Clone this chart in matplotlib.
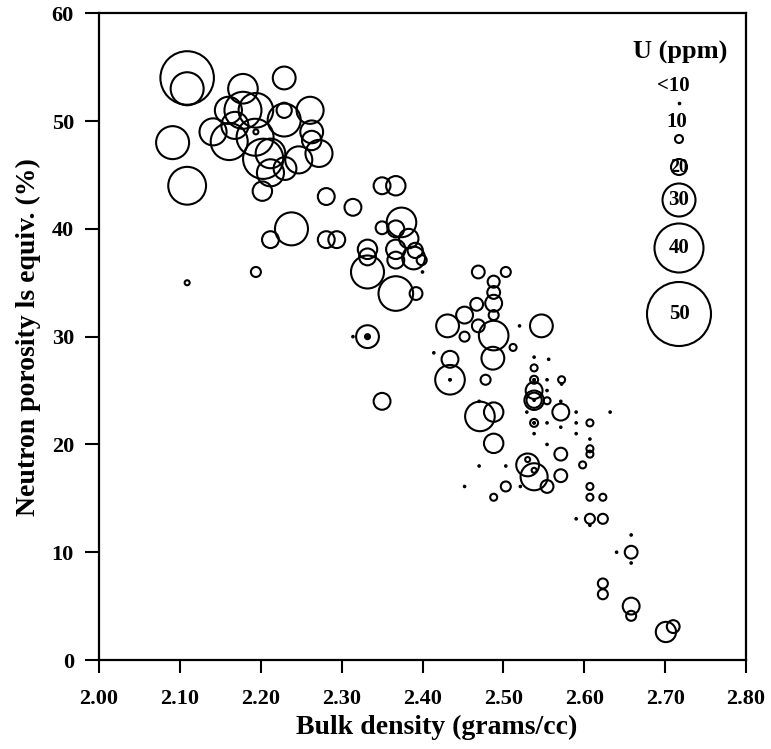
import numpy as np
import matplotlib
matplotlib.use("Agg")
import matplotlib.pyplot as plt

# ---- data: bulk density (g/cc), neutron porosity (%), uranium (ppm) ----
density = [
    2.109, 2.109, 2.178, 2.229, 2.261, 2.160, 2.229, 2.178, 2.194, 2.141,
    2.161, 2.194, 2.229, 2.263, 2.263, 2.272, 2.193, 2.203, 2.212, 2.212,
    2.247, 2.230, 2.202, 2.091, 2.109, 2.281, 2.238, 2.212, 2.281, 2.294,
    2.194, 2.109, 2.168,
    2.350, 2.367, 2.314, 2.374, 2.350, 2.367, 2.383, 2.332, 2.332, 2.367,
    2.367, 2.391, 2.389, 2.399, 2.400, 2.332, 2.367, 2.392, 2.332, 2.332,
    2.314, 2.350,
    2.431, 2.434, 2.434, 2.434, 2.414, 2.469, 2.503, 2.488, 2.488, 2.488,
    2.467, 2.488, 2.452, 2.469, 2.488, 2.452, 2.520, 2.547, 2.512, 2.487,
    2.478, 2.470, 2.471, 2.488, 2.488, 2.470, 2.503, 2.452, 2.488, 2.503,
    2.521, 2.530, 2.530, 2.538, 2.538, 2.554,
    2.538, 2.556, 2.538, 2.538, 2.538, 2.554, 2.572, 2.572, 2.538, 2.554,
    2.538, 2.538, 2.554, 2.571, 2.571, 2.529, 2.590, 2.632, 2.538, 2.538,
    2.554, 2.590, 2.607, 2.571, 2.538, 2.590, 2.607, 2.554, 2.607, 2.607,
    2.571, 2.598, 2.571, 2.607, 2.607, 2.623, 2.590, 2.607, 2.607, 2.623,
    2.658, 2.658, 2.658, 2.640, 2.623, 2.623, 2.658, 2.658, 2.701, 2.710,
]
porosity = [
    54.0, 53.0, 53.0, 54.0, 51.0, 51.0, 51.0, 51.0, 51.0, 49.0,
    48.1, 49.0, 50.1, 49.0, 48.2, 47.0, 48.5, 46.5, 47.0, 45.2,
    46.4, 45.6, 43.5, 48.0, 44.0, 43.0, 40.0, 39.0, 39.0, 39.0,
    36.0, 35.0, 49.6,
    44.0, 44.0, 42.0, 40.6, 40.1, 40.0, 39.1, 38.1, 37.4, 38.1,
    37.1, 38.0, 37.3, 37.1, 36.0, 36.0, 34.0, 34.0, 30.0, 30.0,
    30.0, 24.0,
    31.0, 27.9, 26.0, 26.0, 28.5, 36.0, 36.0, 35.1, 34.1, 33.1,
    33.0, 32.0, 32.0, 31.0, 30.1, 30.0, 31.0, 31.0, 29.0, 28.0,
    26.0, 24.0, 22.6, 23.0, 20.1, 18.0, 18.0, 16.1, 15.1, 16.1,
    16.1, 18.6, 18.1, 17.6, 17.0, 16.1,
    28.1, 27.9, 27.1, 26.0, 26.0, 26.0, 26.0, 25.6, 25.0, 25.0,
    24.1, 24.1, 24.05, 24.0, 23.0, 23.0, 23.0, 23.0, 22.0, 22.0,
    22.0, 22.0, 22.0, 21.6, 21.0, 21.0, 20.5, 20.0, 19.6, 19.1,
    19.1, 18.1, 17.1, 16.1, 15.1, 15.1, 13.1, 13.1, 12.5, 13.1,
    11.6, 10.0, 9.0, 10.0, 7.1, 6.1, 5.0, 4.1, 2.6, 3.1,
]
uranium = [
    43, 30, 28, 24, 26.5, 26.5, 19, 32.5, 31, 26.5,
    32.5, 7, 30, 24, 22, 26.5, 32.5, 34.5, 28, 26.5,
    26.5, 24, 22, 30, 33, 20.5, 30, 20.5, 20.5, 20.5,
    12.5, 7, 26.5,
    20.5, 22, 20.5, 28, 16, 20.5, 22, 22, 20.5, 22,
    20.5, 19, 24, 12.5, 5, 30, 31, 16, 24, 7,
    5, 20.5,
    24, 20.5, 28, 5, 5, 16, 12.5, 15, 16, 20.5,
    16, 12.5, 20.5, 16, 28, 12.5, 5, 24, 9, 24,
    12.5, 5, 28, 22, 22, 5, 5, 5, 9, 12.5,
    5, 7, 24, 7, 26.5, 16,
    5, 5, 9, 10, 5, 5, 9, 5, 20.5, 5,
    22, 19, 9, 5, 20.5, 5, 5, 5, 10, 5,
    5, 5, 9, 5, 5, 5, 5, 5, 9, 9,
    16, 9, 16, 9, 9, 9, 5, 12.5, 5, 12.5,
    5, 16, 5, 5, 12.5, 12.5, 20.5, 12.5, 22.5, 16,
]
# extra dots drawn inside a few circles
dot_density = [2.332, 2.434, 2.538, 2.538, 2.538]
dot_porosity = [30.0, 26.0, 26.0, 22.0, 24.1]

legend_ppm = [5, 10, 20, 30, 40, 50]
legend_labels = ["<10", "10", "20", "30", "40", "50"]

x_ticks = [2.00, 2.10, 2.20, 2.30, 2.40, 2.50, 2.60, 2.70, 2.80]
y_ticks = [0, 10, 20, 30, 40, 50, 60]

DPI = 100
REF_U = [5, 10, 20, 30, 40, 50]
REF_D = [3, 8, 16, 33, 49, 64]   # circle diameter in pixels


def size_of(u):
    d_px = np.interp(np.asarray(u, float), REF_U, REF_D)
    return (d_px * 72.0 / DPI) ** 2


serif = ["Liberation Serif", "DejaVu Serif"]
plt.rcParams["font.family"] = serif
plt.rcParams["font.weight"] = "bold"

fig = plt.figure(figsize=(7.71, 7.49), dpi=DPI)
ax = fig.add_axes([99 / 771, 89 / 749, 647 / 771, 646.7 / 749])

dens = np.array(density)
por = np.array(porosity)
u = np.array(uranium)
small = u < 6
ax.scatter(dens[~small], por[~small], s=size_of(u[~small]), facecolors="none",
           edgecolors="black", linewidths=1.5, zorder=3)
ax.scatter(dens[small], por[small], s=size_of(u[small]) * 0.7, facecolors="black",
           edgecolors="black", linewidths=0.8, zorder=3)
ax.scatter(dot_density, dot_porosity, s=size_of([5] * len(dot_density)) * 0.7,
           facecolors="black", edgecolors="black", linewidths=0.8, zorder=3)

ax.set_xlim(2.0, 2.8)
ax.set_ylim(0, 60)
ax.set_xticks(x_ticks)
ax.set_xticklabels([f"{v:.2f}" for v in x_ticks])
ax.set_yticks(y_ticks)
ax.set_yticklabels([str(v) for v in y_ticks])
ax.tick_params(axis="both", direction="out", width=1.5, labelsize=16)
ax.tick_params(axis="x", length=9, pad=12)
ax.tick_params(axis="y", length=10, pad=8)
for sp in ax.spines.values():
    sp.set_linewidth(1.6)
for lab in ax.get_xticklabels() + ax.get_yticklabels():
    lab.set_fontweight("bold")

ax.set_xlabel("Bulk density (grams/cc)", fontsize=20, fontweight="bold", labelpad=5)
ax.xaxis.set_label_coords((437 - 99) / 647, -0.085)
ax.set_ylabel("Neutron porosity ls equiv. (%)", fontsize=20, fontweight="bold", labelpad=8)

# ---- size legend ----
leg_x = (679 - 99) / 647
leg_y = [(660 - p) / 646.7 for p in [103, 139, 167, 200, 248, 314]]
ax.text((680 - 99) / 647, (660 - 52) / 646.7, "U (ppm)", transform=ax.transAxes,
        ha="center", va="center", fontsize=19, fontweight="bold")
for ppm, lab, yy in zip(legend_ppm, legend_labels, leg_y):
    if ppm < 8:
        ax.scatter([leg_x], [yy], s=size_of([ppm]) * 0.7, facecolors="black",
                   edgecolors="black", linewidths=0.8, transform=ax.transAxes)
        ax.text((673 - 99) / 647, yy + 17 / 646.7, lab, transform=ax.transAxes,
                ha="center", va="center", fontsize=15, fontweight="bold")
    elif ppm < 15:
        ax.scatter([leg_x], [yy], s=size_of([ppm]), facecolors="none",
                   edgecolors="black", linewidths=1.5, transform=ax.transAxes)
        ax.text((677 - 99) / 647, yy + 17 / 646.7, lab, transform=ax.transAxes,
                ha="center", va="center", fontsize=15, fontweight="bold")
    else:
        ax.scatter([leg_x], [yy], s=size_of([ppm]), facecolors="none",
                   edgecolors="black", linewidths=1.5, transform=ax.transAxes)
        ax.text(leg_x, yy, lab, transform=ax.transAxes, ha="center", va="center",
                fontsize=13 if ppm == 20 else 15, fontweight="bold")

fig.savefig("out.png", dpi=DPI)
